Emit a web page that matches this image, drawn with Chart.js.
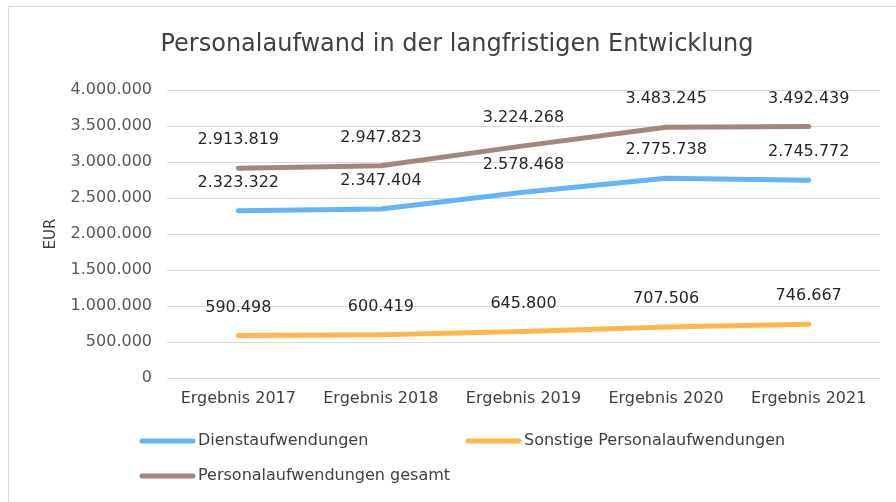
<!DOCTYPE html>
<html>
<head>
<meta charset="utf-8">
<script src="https://cdn.jsdelivr.net/npm/chart.js@4/dist/chart.umd.min.js"></script>
<style>
  html, body { margin: 0; padding: 0; background: #ffffff; }
  #wrap { position: relative; width: 896px; height: 502px; }
</style>
</head>
<body>
<div id="wrap"><canvas id="c" width="896" height="502"></canvas></div>
<script>
const categories = ['Ergebnis 2017', 'Ergebnis 2018', 'Ergebnis 2019', 'Ergebnis 2020', 'Ergebnis 2021'];
const dienstaufwendungen = [2323322, 2347404, 2578468, 2775738, 2745772];
const sonstigePersonalaufwendungen = [590498, 600419, 645800, 707506, 746667];
const personalaufwendungenGesamt = [2913819, 2947823, 3224268, 3483245, 3492439];
const seriesNames = ['Dienstaufwendungen', 'Sonstige Personalaufwendungen', 'Personalaufwendungen gesamt'];
const chartTitle = 'Personalaufwand in der langfristigen Entwicklung';
const yAxisTitle = 'EUR';

const FONT = '"DejaVu Sans", Verdana, sans-serif';
const fmt = v => Math.round(v).toString().replace(/\B(?=(\d{3})+(?!\d))/g, '.');

const colors = ['#64B5F6', '#FFB74D', '#A1887F'];

const decorPlugin = {
  id: 'decor',
  beforeDraw(chart) {
    const ctx = chart.ctx;
    ctx.save();
    ctx.fillStyle = '#ffffff';
    ctx.fillRect(0, 0, chart.width, chart.height);
    ctx.strokeStyle = '#d9d9d9';
    ctx.lineWidth = 1;
    ctx.beginPath();
    ctx.moveTo(8.5, chart.height);
    ctx.lineTo(8.5, 6.5);
    ctx.lineTo(chart.width, 6.5);
    ctx.stroke();
    // title
    ctx.fillStyle = '#404040';
    ctx.font = '24px ' + FONT;
    ctx.textAlign = 'center';
    ctx.textBaseline = 'middle';
    ctx.fillText(chartTitle, 457, 45);
    ctx.restore();
  },
  afterDatasetsDraw(chart) {
    const ctx = chart.ctx;
    ctx.save();
    ctx.fillStyle = '#262626';
    ctx.font = '16px ' + FONT;
    ctx.textAlign = 'center';
    ctx.textBaseline = 'middle';
    chart.data.datasets.forEach((ds, i) => {
      const meta = chart.getDatasetMeta(i);
      meta.data.forEach((pt, j) => {
        ctx.fillText(fmt(ds.data[j]), pt.x, pt.y - 28);
      });
    });
    // legend
    const items = [
      { x: 140, y: 441 },
      { x: 466, y: 441 },
      { x: 140, y: 476 }
    ];
    ctx.textAlign = 'left';
    ctx.fillStyle = '#404040';
    chart.data.datasets.forEach((ds, i) => {
      const it = items[i];
      ctx.strokeStyle = ds.borderColor;
      ctx.lineWidth = 5;
      ctx.lineCap = 'round';
      ctx.beginPath();
      ctx.moveTo(it.x + 2, it.y);
      ctx.lineTo(it.x + 53, it.y);
      ctx.stroke();
      ctx.fillText(ds.label, it.x + 58, it.y);
    });
    ctx.restore();
  }
};

new Chart(document.getElementById('c'), {
  type: 'line',
  data: {
    labels: categories,
    datasets: [
      { label: seriesNames[0], data: dienstaufwendungen, borderColor: colors[0], backgroundColor: colors[0] },
      { label: seriesNames[1], data: sonstigePersonalaufwendungen, borderColor: colors[1], backgroundColor: colors[1] },
      { label: seriesNames[2], data: personalaufwendungenGesamt, borderColor: colors[2], backgroundColor: colors[2] }
    ].map(d => Object.assign(d, {
      borderWidth: 5, pointRadius: 0, pointHoverRadius: 0, tension: 0,
      borderCapStyle: 'round', borderJoinStyle: 'round', fill: false
    }))
  },
  options: {
    responsive: false,
    animation: false,
    events: [],
    layout: { padding: { left: 0, right: 16, top: 90, bottom: 84 } },
    plugins: {
      legend: { display: false },
      title: { display: false },
      tooltip: { enabled: false }
    },
    scales: {
      x: {
        offset: true,
        grid: { display: false, drawTicks: false },
        border: { display: false },
        ticks: { color: '#404040', font: { family: FONT, size: 16 }, padding: 11, maxRotation: 0, autoSkip: false },
        afterFit(s) { s.height = 40; }
      },
      y: {
        min: 0, max: 4000000,
        grid: { color: '#d9d9d9', lineWidth: 1, drawTicks: false },
        border: { display: false },
        ticks: { stepSize: 500000, color: '#595959', font: { family: FONT, size: 16 }, padding: 15, callback: v => fmt(v) },
        title: { display: true, text: yAxisTitle, color: '#404040', font: { family: FONT, size: 15 }, padding: { top: 42, bottom: 0 } },
        afterFit(s) { s.width = 167; }
      }
    }
  },
  plugins: [decorPlugin]
});
</script>
</body>
</html>
